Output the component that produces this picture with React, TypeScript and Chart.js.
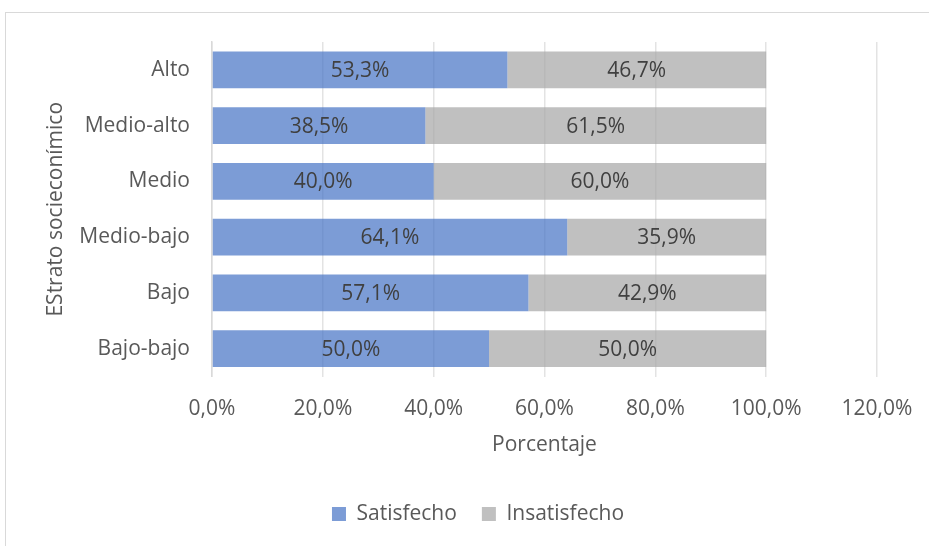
import React, { useEffect, useRef } from "react";
import { Chart, registerables } from "chart.js";

Chart.register(...registerables);

const categories = ["Alto", "Medio-alto", "Medio", "Medio-bajo", "Bajo", "Bajo-bajo"];
const satisfecho = [53.3, 38.5, 40.0, 64.1, 57.1, 50.0];
const insatisfecho = [46.7, 61.5, 60.0, 35.9, 42.9, 50.0];
const seriesNames = ["Satisfecho", "Insatisfecho"];
const xTicks = [0, 20, 40, 60, 80, 100, 120];

const FONT = "'Open Sans', sans-serif";
const FS = 21;
const CANVAS_W = 960;
const fmt = (v: number) => v.toFixed(1).replace(".", ",") + "%";

const labelPlugin = {
  id: "segLabels",
  afterDatasetsDraw(chart: any) {
    const ctx = chart.ctx;
    ctx.save();
    ctx.font = `${FS}px ${FONT}`;
    ctx.fillStyle = "#404040";
    ctx.textAlign = "center";
    ctx.textBaseline = "middle";
    chart.data.datasets.forEach((ds: any, di: number) => {
      const meta = chart.getDatasetMeta(di);
      meta.data.forEach((bar: any, i: number) => {
        const cx = (bar.x + bar.base) / 2;
        ctx.fillText(fmt(ds.data[i]), cx, bar.y + 1);
      });
    });
    ctx.restore();
  },
};

export default function App() {
  const ref = useRef<HTMLCanvasElement>(null);
  useEffect(() => {
    if (!ref.current) return;
    const chart = new Chart(ref.current, {
      type: "bar",
      data: {
        labels: categories,
        datasets: [
          {
            label: seriesNames[0],
            data: satisfecho,
            backgroundColor: "rgba(68,114,196,0.7)",
            borderWidth: 0,
          },
          {
            label: seriesNames[1],
            data: insatisfecho,
            backgroundColor: "rgba(165,165,165,0.7)",
            borderWidth: 0,
          },
        ],
      },
      options: {
        indexAxis: "y",
        animation: false,
        responsive: false,
        maintainAspectRatio: false,
        datasets: { bar: { barPercentage: 0.663, categoryPercentage: 1 } },
        layout: { padding: { left: 5, right: 9, top: 42, bottom: 11.5 } },
        scales: {
          x: {
            stacked: true,
            min: 0,
            max: 120,
            afterBuildTicks: (s: any) => {
              s.ticks = xTicks.map((v) => ({ value: v }));
            },
            afterFit: (s: any) => {
              s.height = 102;
            },
            ticks: {
              padding: 20,
              color: "#595959",
              font: { family: FONT, size: FS },
              callback: (v: any) => fmt(Number(v)),
            },
            grid: { color: "#e3e3e3", lineWidth: 1.5, drawTicks: false },
            border: { display: false },
            title: {
              display: true,
              text: "Porcentaje",
              color: "#595959",
              font: { family: FONT, size: FS },
              padding: { top: 0, bottom: 21 },
            },
          },
          y: {
            stacked: true,
            afterFit: (s: any) => {
              s.width = 207;
            },
            ticks: {
              padding: 22,
              color: "#595959",
              font: { family: FONT, size: FS },
            },
            grid: { display: false, drawTicks: false },
            border: { display: true, color: "#d9d9d9", width: 1.5 },
            title: {
              display: true,
              text: "EStrato socieconímico",
              color: "#595959",
              font: { family: FONT, size: FS },
              padding: { top: 38, bottom: 0 },
            },
          },
          spacer: {
            type: "category",
            position: "right",
            labels: categories,
            afterFit: (s: any) => {
              s.width = 74;
            },
            ticks: { display: false },
            grid: { display: false, drawTicks: false },
            border: { display: false },
          },
        },
        plugins: {
          legend: {
            position: "bottom",
            labels: {
              color: "#595959",
              font: { family: FONT, size: FS },
              boxWidth: 14,
              boxHeight: 14,
              padding: 25,
            },
          },
          tooltip: { enabled: false },
        },
      },
      plugins: [labelPlugin],
    } as any);
    return () => chart.destroy();
  }, []);

  return (
    <div
      style={{
        position: "fixed",
        left: 0,
        top: 0,
        width: 929,
        height: 546,
        overflow: "hidden",
        background: "#fff",
      }}
    >
      <div
        style={{
          position: "absolute",
          left: 5,
          top: 12,
          width: 1000,
          height: 1000,
          border: "1.5px solid #d9d9d9",
        }}
      />
      <canvas
        ref={ref}
        width={CANVAS_W}
        height={546}
        style={{ position: "absolute", left: 0, top: 0, width: CANVAS_W, height: 546 }}
      />
    </div>
  );
}
